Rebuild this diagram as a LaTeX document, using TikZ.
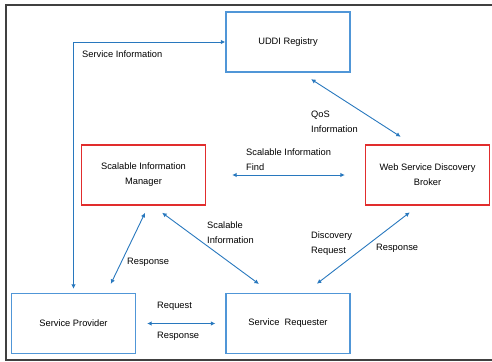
\documentclass[tikz,border=0pt]{standalone}
\usepackage{fontspec}
\setmainfont{Liberation Sans}
\usetikzlibrary{arrows.meta,calc}
\definecolor{boxblue}{RGB}{80,150,215}
\definecolor{boxred}{RGB}{225,45,45}
\definecolor{linkblue}{RGB}{40,120,190}
\definecolor{framegray}{RGB}{64,64,64}

\begin{document}
\begin{tikzpicture}[x=1pt,y=-1pt,
  every node/.style={font=\fontsize{9.3}{15}\selectfont},
  bluebox/.style={draw=boxblue,line width=1.3pt,minimum width=124pt,minimum height=60pt,align=center,inner sep=0pt},
  redbox/.style={bluebox,draw=boxred},
  link/.style={linkblue,line width=0.9pt,{Latex[length=4.5pt,width=4.5pt]}-{Latex[length=4.5pt,width=4.5pt]}},
  lbl/.style={anchor=west,align=left,inner sep=0pt}]
  \useasboundingbox (0,0) rectangle (492,361);
  \draw[framegray,line width=1.2pt] (6,5) rectangle (495,360);
  % boxes
  \node[bluebox] (uddi) at (288,42) {UDDI Registry};
  \node[redbox] (sim) at (143.5,175) {Scalable Information\\Manager};
  \node[redbox] (wsdb) at (427.5,175) {Web Service Discovery\\Broker};
  \node[bluebox] (sp) at (73.5,323.5) {Service Provider};
  \node[bluebox] (sr) at (288,323.5) {Service~~Requester};
  % connectors
  \draw[link,shorten <=4pt] (sp.north) |- (uddi.west);
  \draw[link,shorten <=12pt,shorten >=14pt] ([xshift=13pt]uddi.south) -- ([xshift=-15pt]wsdb.north);
  \draw[link,shorten <=26pt,shorten >=20pt] (sim.east) -- (wsdb.west);
  \draw[link,shorten <=8pt,shorten >=10pt] ([xshift=5pt]sim.south) -- ([xshift=33pt]sp.north);
  \draw[link,shorten <=12pt,shorten >=15pt] ([xshift=9pt]sim.south) -- ([xshift=-17pt]sr.north);
  \draw[link,shorten <=11pt,shorten >=15pt] ([xshift=-9pt]wsdb.south) -- ([xshift=17pt]sr.north);
  \draw[link,shorten <=11pt,shorten >=10pt] (sp.east) -- (sr.west);
  % labels
  \node[lbl] (l-si) at (82,54) {Service Information};
  \node[lbl] (l-qos) at (311,122) {QoS\\Information};
  \node[lbl] (l-find) at (246,159.5) {Scalable Information\\Find};
  \node[lbl] (l-resp1) at (127,262) {Response};
  \node[lbl] (l-scal) at (207,233) {Scalable\\Information};
  \node[lbl] (l-disc) at (311,243.5) {Discovery\\Request};
  \node[lbl] (l-resp2) at (376,248) {Response};
  \node[lbl] (l-req) at (157,306) {Request};
  \node[lbl] (l-resp3) at (157,336) {Response};
\end{tikzpicture}
\end{document}
